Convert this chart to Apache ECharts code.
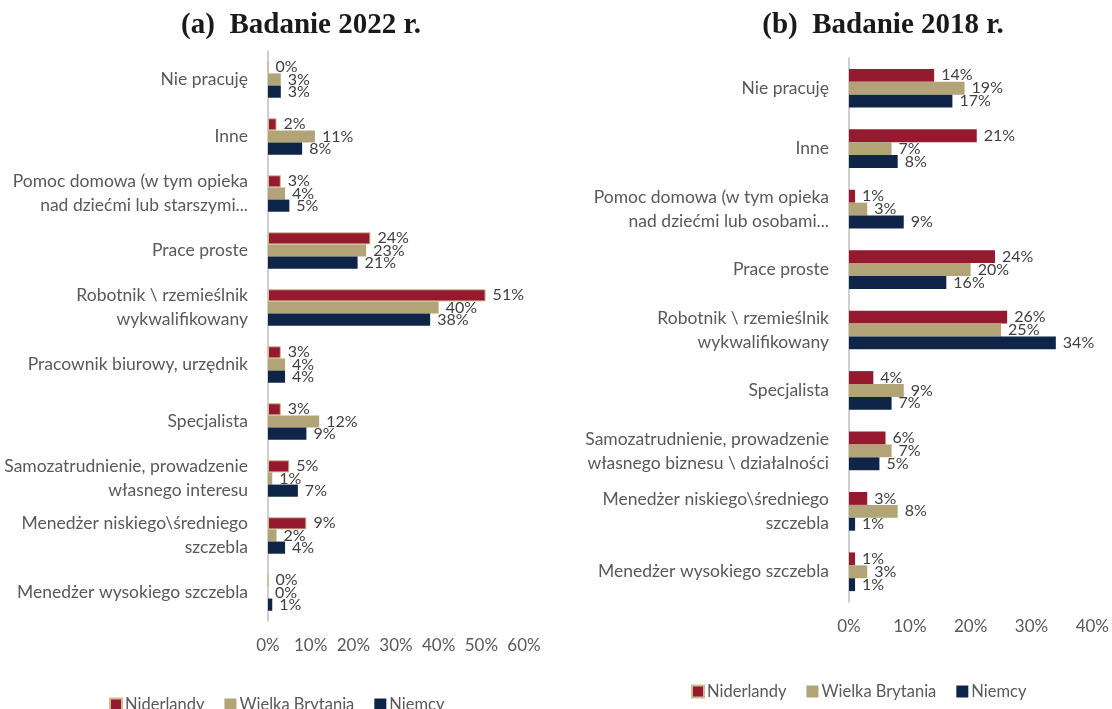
<!DOCTYPE html>
<html>
<head>
<meta charset="utf-8">
<script src="https://cdn.jsdelivr.net/npm/echarts@6/dist/echarts.min.js"></script>
<style>
  html, body { margin: 0; padding: 0; background: #fff; }
  #main { width: 1112px; height: 709px; }
</style>
</head>
<body>
<div id="main"></div>
<script>
var dom = document.getElementById('main');
var chart = echarts.init(dom);

// (a) badanie 2022
var cats2022 = [
    'Nie pracuję',
    'Inne',
    'Pomoc domowa (w tym opieka\nnad dziećmi lub starszymi...',
    'Prace proste',
    'Robotnik \\ rzemieślnik\nwykwalifikowany',
    'Pracownik biurowy, urzędnik',
    'Specjalista',
    'Samozatrudnienie, prowadzenie\nwłasnego interesu',
    'Menedżer niskiego\\średniego\nszczebla',
    'Menedżer wysokiego szczebla'
];
var nl2022 = [0, 2, 3, 24, 51, 3, 3, 5, 9, 0];
var gb2022 = [3, 11, 4, 23, 40, 4, 12, 1, 2, 0];
var de2022 = [3, 8, 5, 21, 38, 4, 9, 7, 4, 1];

// (b) badanie 2018
var cats2018 = [
    'Nie pracuję',
    'Inne',
    'Pomoc domowa (w tym opieka\nnad dziećmi lub osobami...',
    'Prace proste',
    'Robotnik \\ rzemieślnik\nwykwalifikowany',
    'Specjalista',
    'Samozatrudnienie, prowadzenie\nwłasnego biznesu \\ działalności',
    'Menedżer niskiego\\średniego\nszczebla',
    'Menedżer wysokiego szczebla'
];
var nl2018 = [14, 21, 1, 24, 26, 4, 6, 3, 1];
var gb2018 = [19, 7, 3, 20, 25, 9, 7, 8, 3];
var de2018 = [17, 8, 9, 16, 34, 7, 5, 1, 1];

var countries = ['Niderlandy', 'Wielka Brytania', 'Niemcy'];
var colors = ['#951A30', '#B3A477', '#0E2547'];
var font = 'Lato';

function bars(name, data, idx, color, border) {
    return {
        type: 'bar',
        name: name,
        data: data,
        xAxisIndex: idx,
        yAxisIndex: idx,
        barGap: '0%',
        barCategoryGap: '36%',
        itemStyle: {
            color: color,
            borderColor: border || color,
            borderWidth: border ? 1 : 0
        },
        label: {
            show: true,
            position: 'right',
            distance: 7,
            formatter: '{c}%',
            color: '#404040',
            fontFamily: font,
            fontSize: 16
        },
        labelLayout: { hideOverlap: false }
    };
}

function catAxis(idx, data) {
    return {
        type: 'category',
        gridIndex: idx,
        data: data,
        inverse: true,
        axisTick: { show: false },
        axisLine: { lineStyle: { color: '#BFBFBF', width: 1.5 } },
        axisLabel: {
            color: '#595959',
            fontFamily: font,
            fontSize: 17.5,
            margin: 20,
            lineHeight: 24
        }
    };
}

function valAxis(idx, max) {
    return {
        type: 'value',
        gridIndex: idx,
        min: 0,
        max: max,
        interval: 10,
        axisLine: { show: false },
        axisTick: { show: false },
        splitLine: { show: false },
        axisLabel: {
            color: '#595959',
            fontFamily: font,
            fontSize: 17,
            margin: 16,
            formatter: '{value}%'
        }
    };
}

var legendBase = {
    data: countries,
    icon: 'rect',
    itemWidth: 12,
    itemHeight: 12,
    itemGap: 20,
    textStyle: { color: '#595959', fontFamily: font, fontSize: 16.5, padding: [0, 0, 0, -2] }
};

chart.setOption({
    animation: false,
    color: colors,
    title: [
        {
            text: '(a)  Badanie 2022 r.',
            left: 296,
            top: 6,
            textAlign: 'center',
            textStyle: { fontFamily: 'Liberation Serif', fontWeight: 'bold', fontSize: 29, color: '#1a1a1a' }
        },
        {
            text: '(b)  Badanie 2018 r.',
            left: 878,
            top: 6,
            textAlign: 'center',
            textStyle: { fontFamily: 'Liberation Serif', fontWeight: 'bold', fontSize: 29, color: '#1a1a1a' }
        }
    ],
    legend: [
        Object.assign({ left: 104, top: 691 }, legendBase),
        Object.assign({ left: 686, top: 678 }, legendBase)
    ],
    grid: [
        { left: 268, top: 51, width: 256, height: 570 },
        { left: 849, top: 58, width: 250, height: 544 }
    ],
    xAxis: [valAxis(0, 60), valAxis(1, 40)],
    yAxis: [catAxis(0, cats2022), catAxis(1, cats2018)],
    series: [
        bars(countries[0], nl2022, 0, colors[0], '#CDBE92'),
        bars(countries[1], gb2022, 0, colors[1]),
        bars(countries[2], de2022, 0, colors[2]),
        bars(countries[0], nl2018, 1, colors[0]),
        bars(countries[1], gb2018, 1, colors[1]),
        bars(countries[2], de2018, 1, colors[2])
    ]
});
</script>
</body>
</html>
